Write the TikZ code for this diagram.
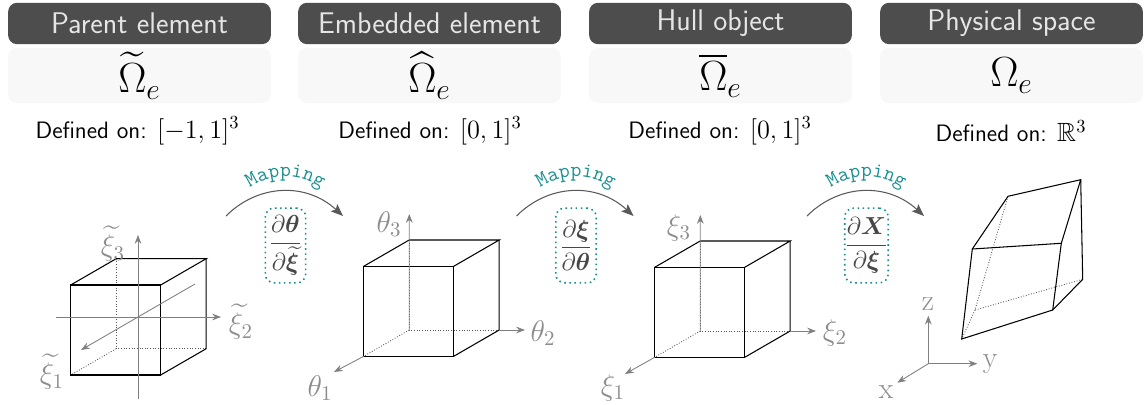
\documentclass[tikz,border=0pt]{standalone}
\usepackage{fix-cm}
\usepackage{amsmath, amssymb, bm}
\usepackage{tikz}
\usetikzlibrary{decorations.text,arrows.meta}

\definecolor{headgray}{HTML}{4D4D4D}
\definecolor{panelgray}{HTML}{F8F8F8}
\definecolor{axisgray}{HTML}{808080}
\definecolor{maptext}{HTML}{1A8F8F}

\tikzset{
    headbox/.style={fill=headgray,rounded corners=5pt,minimum width=149.5pt,minimum height=23.5pt,inner sep=0pt,text=white!90!black,font=\sffamily\fontsize{17}{20}\selectfont},
    symbox/.style={fill=panelgray,rounded corners=5pt,minimum width=149.5pt,minimum height=31.5pt,inner sep=0pt,font=\fontsize{24}{28}\selectfont},
    domlabel/.style={inner sep=0pt,font=\sffamily\fontsize{13.5}{16}\selectfont},
    axis/.style={draw=axisgray,-{Stealth[length=5pt,width=3.8pt]},line width=0.5pt},
    axislabel/.style={inner sep=0pt,text=axisgray!90,font=\fontsize{17}{20}\selectfont},
    edge/.style={draw=black,line width=0.6pt},
    hidden/.style={draw=black!65,line width=0.5pt,densely dotted},
    maparc/.style={draw=black!65,line width=0.6pt,-{Stealth[length=7pt,width=5.5pt,inset=1.5pt]}},
    jacbox/.style={draw=maptext,dotted,line width=0.9pt,rounded corners=5pt,minimum width=23pt,minimum height=42.5pt,inner sep=0pt,text=black!72,font=\fontsize{14}{16}\selectfont},
}

\begin{document}
\begin{tikzpicture}[x=0.02cm,y=-0.02cm]
    \useasboundingbox (0,0) rectangle (1146,405);

    % Cabecalhos
    \foreach \n/\x/\title/\sym/\dom/\domx in {
        parent/139.5/Parent element/\widetilde{\Omega}_e/{$[-1,1]^3$}/137.5,
        embedded/429.5/Embedded element/\widehat{\Omega}_e/{$[0,1]^3$}/430,
        hull/720.5/Hull object/\overline{\Omega}_e/{$[0,1]^3$}/720,
        physical/1011.5/Physical space/\Omega_e/{$\mathbb{R}^3$}/1011}
    {
        \node[headbox] (head-\n) at (\x,23.5) {\title};
        \node[symbox] (sym-\n) at (\x,75.5) {$\sym$};
        \node[domlabel] (dom-\n) at (\domx,131) {Defined on: {\fontsize{15}{18}\selectfont\dom}};
    }

    % Cubos
    \foreach \n/\x/\y in {a/70.7/285,b/363.7/266.3,c/654.7/267.3}
    {
        \coordinate (\n1) at (\x,\y);
        \coordinate (\n2) at (\x+90,\y);
        \coordinate (\n3) at (\x+90,\y+90);
        \coordinate (\n4) at (\x,\y+90);
        \coordinate (\n5) at (\x+45.5,\y-26.3);
        \coordinate (\n6) at (\x+135.5,\y-26.3);
        \coordinate (\n7) at (\x+135.5,\y+63.7);
        \coordinate (\n8) at (\x+45.5,\y+63.7);
        \draw[hidden] (\n5) -- (\n8) -- (\n7);
        \draw[hidden] (\n8) -- (\n4);
        \draw[edge] (\n1) -- (\n2) -- (\n3) -- (\n4) -- cycle;
        \draw[edge] (\n1) -- (\n5) -- (\n6) -- (\n2);
        \draw[edge] (\n6) -- (\n7) -- (\n3);
    }

    % Eixos do primeiro cubo
    \coordinate (a-s3) at (138,399);
    \coordinate (a-e3) at (138,235);
    \coordinate (a-s2) at (56,317);
    \coordinate (a-e2) at (221,317);
    \coordinate (a-s1) at (195,284);
    \coordinate (a-e1) at (81,350);
    \foreach \i in {1,2,3}
        \draw[axis] (a-s\i) -- (a-e\i);
    \node[axislabel] (a-l3) at (113,244) {$\widetilde{\xi}_3$};
    \node[axislabel] (a-l2) at (241,322) {$\widetilde{\xi}_2$};
    \node[axislabel] (a-l1) at (52,372) {$\widetilde{\xi}_1$};

    % Eixos dos outros cubos
    \coordinate (b-e3) at (409.3,214);
    \coordinate (b-e2) at (525,330);
    \coordinate (b-e1) at (334,372);
    \coordinate (c-e3) at (700.3,215);
    \coordinate (c-e2) at (816,331);
    \coordinate (c-e1) at (625,374);
    \draw[axis] (b8) -- (b-e3);
    \draw[axis] (b7) -- (b-e2);
    \draw[axis] (b4) -- (b-e1);
    \draw[axis] (c8) -- (c-e3);
    \draw[axis] (c7) -- (c-e2);
    \draw[axis] (c4) -- (c-e1);
    \node[axislabel] (b-l3) at (389,224) {$\theta_3$};
    \node[axislabel] (b-l2) at (543,333) {$\theta_2$};
    \node[axislabel] (b-l1) at (320,388) {$\theta_1$};
    \node[axislabel] (c-l3) at (679,228) {$\xi_3$};
    \node[axislabel] (c-l2) at (835,333) {$\xi_2$};
    \node[axislabel] (c-l1) at (613,388) {$\xi_1$};

    % Elemento fisico
    \coordinate (d1) at (972.3,249);
    \coordinate (d2) at (1061.3,243.3);
    \coordinate (d3) at (1052.7,310);
    \coordinate (d4) at (961.7,339);
    \coordinate (d5) at (1008,196.3);
    \coordinate (d6) at (1080.7,179.7);
    \coordinate (d7) at (1082.7,279.3);
    \coordinate (d8) at (975,310);
    \draw[hidden] (d5) -- (d8) -- (d7);
    \draw[hidden] (d8) -- (d4);
    \draw[edge] (d1) -- (d2) -- (d3) -- (d4) -- cycle;
    \draw[edge] (d1) -- (d5) -- (d6) -- (d2);
    \draw[edge] (d6) -- (d7) -- (d3);

    % Eixos xyz
    \coordinate (o) at (928.3,363.7);
    \coordinate (o-z) at (928.3,315.7);
    \coordinate (o-y) at (977.3,363.7);
    \coordinate (o-x) at (897.3,382.7);
    \draw[axis] (o) -- (o-z);
    \draw[axis] (o) -- (o-y);
    \draw[axis] (o) -- (o-x);
    \node[axislabel] (l-z) at (928,304) {z};
    \node[axislabel] (l-y) at (990,364) {y};
    \node[axislabel] (l-x) at (886,392) {x};

    % Mapeamentos
    \foreach \n/\x/\jac in {
        ab/226/{\dfrac{\partial\bm{\theta}}{\partial\widetilde{\bm{\xi}}}},
        bc/516.5/{\dfrac{\partial\bm{\xi}}{\partial\bm{\theta}}},
        cd/807/{\dfrac{\partial\bm{X}}{\partial\bm{\xi}}}}
    {
        \coordinate (\n-s) at (\x,216);
        \coordinate (\n-t) at (\x+117,216);
        \draw[maparc] (\n-s) .. controls (\x+32,184) and (\x+80,182) .. (\n-t);
        \path[decorate,decoration={text along path,text align=center,
            text={|\ttfamily\fontsize{12}{14}\selectfont\color{maptext}|Mapping}}]
            (\x+7,203) .. controls (\x+37,168) and (\x+82,168) .. (\x+112,203);
        \node[jacbox] (jac-\n) at (\x+59.5,245.5) {$\jac$};
    }
\end{tikzpicture}
\end{document}
